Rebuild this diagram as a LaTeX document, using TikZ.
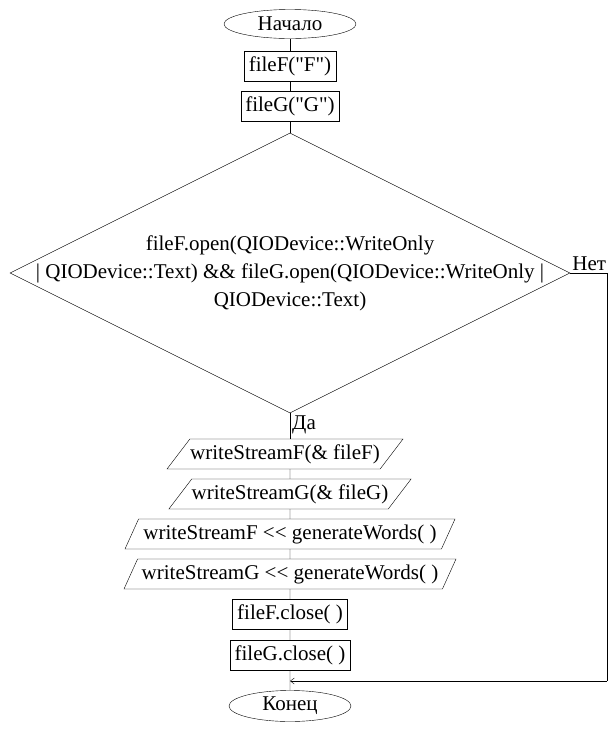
\documentclass[tikz,border=0pt]{standalone}
\usepackage{fontspec}
\setmainfont{Liberation Serif}[Ligatures=TeXOff]
\usetikzlibrary{shapes.geometric,arrows.meta}
\tikzset{
  block/.style={draw,rectangle,minimum height=30pt,inner xsep=4.5pt,inner ysep=0pt},
  term/.style={draw,ellipse,inner sep=0pt},
  io/.style={draw,trapezium,trapezium stretches body,trapezium left angle=52,trapezium right angle=128,minimum height=30pt,inner xsep=0pt,inner ysep=5pt},
  cond/.style={draw,diamond,aspect=2,inner sep=0pt,minimum width=560pt,minimum height=280pt},
  condtext/.style={align=center,inner sep=0pt,font=\fontsize{21}{28}\selectfont},
  line/.style={draw,thin}
}
\begin{document}
\begin{tikzpicture}[x=1pt,y=-1pt,font=\fontsize{21}{25}\selectfont]
\useasboundingbox (0,0) rectangle (616,732);
\node[term,minimum width=132pt,minimum height=29pt] (start) at (290,24) {Начало};
\node[block] (openF) at (290,66.5) {fileF("F")};
\node[block] (openG) at (290,106.5) {fileG("G")};
\node[cond] (check) at (290,273) {};
\node[condtext] (checktext) at (check.center) {fileF.open(QIODevice::WriteOnly\\| QIODevice::Text) \&\& fileG.open(QIODevice::WriteOnly |\\QIODevice::Text)};
\node[io,minimum width=236pt] (streamF) at (285,454) {writeStreamF(\& fileF)};
\node[io,minimum width=236pt] (streamG) at (290,494) {writeStreamG(\& fileG)};
\node[io,minimum width=330pt,trapezium left angle=65,trapezium right angle=115] (wordsF) at (290,534) {writeStreamF << generateWords( )};
\node[io,minimum width=332pt,trapezium left angle=65,trapezium right angle=115] (wordsG) at (290,574) {writeStreamG << generateWords( )};
\node[block] (closeF) at (290,614) {fileF.close( )};
\node[block] (closeG) at (290,655) {fileG.close( )};
\node[term,minimum width=122pt,minimum height=31pt] (stop) at (290,706) {Конец};
% main line
\draw (start) -- (openF) -- (openG) -- (check.north);
\draw (check.south) -- (check.south |- streamF.north);
\draw (streamF.south -| check.south) -- (streamG) -- (wordsF) -- (wordsG) -- (closeF) -- (closeG) -- (stop);
\node[anchor=north west,inner sep=2pt] (yes) at (check.south) {Да};
% no branch
\coordinate (corner) at (607,681);
\node[anchor=south west,inner sep=2pt] (no) at (check.east) {Нет};
\draw (check.east) -| (corner);
\draw[-{Straight Barb[length=4pt,width=6pt]}] (corner) -- (closeG.south |- corner);
\end{tikzpicture}
\end{document}
